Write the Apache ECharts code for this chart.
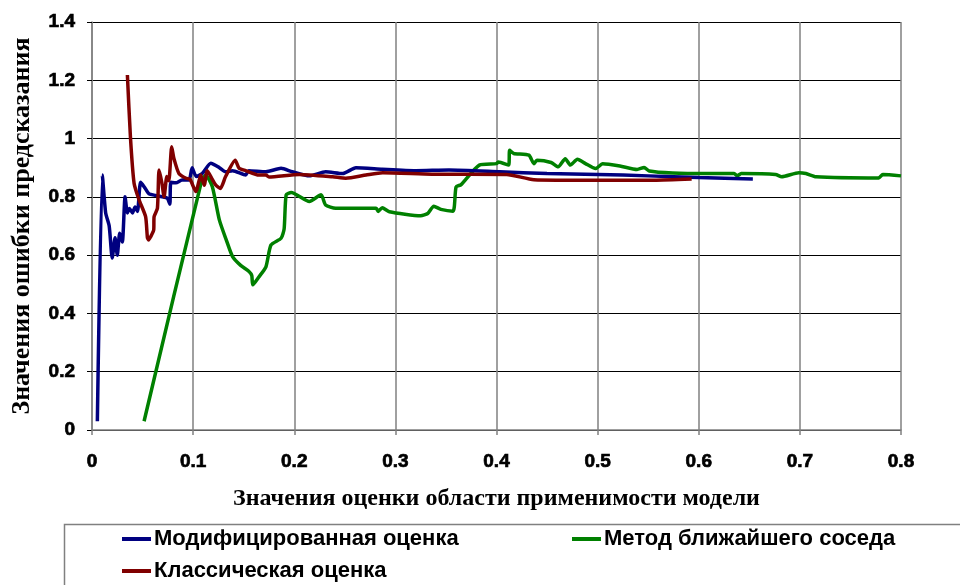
<!DOCTYPE html>
<html>
<head>
<meta charset="utf-8">
<script src="https://cdn.jsdelivr.net/npm/echarts@6/dist/echarts.min.js"></script>
<style>html,body{margin:0;padding:0;background:#fff;}#c{width:960px;height:585px;}</style>
</head>
<body>
<div id="c"></div>
<script>
const xTicks = [0, 0.1, 0.2, 0.3, 0.4, 0.5, 0.6, 0.7, 0.8];
const yTicks = [0, 0.2, 0.4, 0.6, 0.8, 1, 1.2, 1.4];
const seriesNames = ['Модифицированная оценка', 'Метод ближайшего соседа', 'Классическая оценка'];

const modX = [0.0053,0.0102,0.0135,0.017,0.020,0.0228,0.025,0.0274,0.030,0.0327,0.035,0.037,0.040,0.0426,0.045,0.048,0.0515,0.0564,0.063,0.0696,0.0745,0.077,0.078,0.083,0.089,0.096,0.099,0.103,0.109,0.1175,0.126,0.132,0.139,0.152,0.155,0.172,0.187,0.198,0.215,0.231,0.248,0.261,0.287,0.320,0.353,0.403,0.45,0.50,0.55,0.60,0.6535];
const modY = [0.03,0.875,0.745,0.70,0.59,0.66,0.60,0.675,0.645,0.80,0.745,0.76,0.745,0.765,0.75,0.85,0.835,0.81,0.805,0.80,0.795,0.775,0.85,0.848,0.858,0.858,0.90,0.87,0.88,0.915,0.90,0.886,0.89,0.875,0.89,0.886,0.898,0.886,0.872,0.886,0.88,0.90,0.895,0.89,0.892,0.886,0.88,0.877,0.872,0.866,0.861];

const nnX = [0.0515,0.108,0.1125,0.119,0.126,0.133,0.139,0.147,0.155,0.158,0.159,0.165,0.172,0.177,0.187,0.190,0.192,0.197,0.215,0.2265,0.231,0.241,0.281,0.283,0.287,0.294,0.325,0.332,0.338,0.345,0.357,0.36,0.365,0.383,0.400,0.402,0.412,0.413,0.417,0.432,0.437,0.44,0.454,0.461,0.468,0.473,0.48,0.488,0.498,0.505,0.522,0.539,0.546,0.551,0.574,0.608,0.635,0.638,0.642,0.676,0.682,0.699,0.706,0.716,0.778,0.782,0.8];
const nnY = [0.03,0.85,0.875,0.835,0.72,0.65,0.595,0.565,0.545,0.53,0.498,0.525,0.56,0.635,0.658,0.69,0.807,0.815,0.784,0.807,0.772,0.761,0.761,0.75,0.763,0.749,0.735,0.743,0.768,0.757,0.751,0.834,0.842,0.909,0.914,0.92,0.909,0.96,0.949,0.943,0.914,0.926,0.918,0.903,0.931,0.909,0.929,0.914,0.897,0.914,0.906,0.894,0.901,0.889,0.882,0.88,0.88,0.872,0.88,0.877,0.869,0.883,0.88,0.869,0.865,0.877,0.872];

const clsX = [0.035,0.038,0.0416,0.0465,0.053,0.0548,0.056,0.058,0.061,0.0614,0.0647,0.0663,0.069,0.0713,0.074,0.076,0.0788,0.081,0.086,0.093,0.097,0.1027,0.1076,0.111,0.114,0.119,0.1225,0.127,0.132,0.1416,0.1455,0.152,0.165,0.172,0.175,0.205,0.238,0.251,0.271,0.2875,0.336,0.41,0.437,0.50,0.556,0.593];
const clsY = [1.218,1.006,0.847,0.79,0.732,0.66,0.652,0.663,0.686,0.732,0.761,0.892,0.85,0.80,0.87,0.855,0.972,0.932,0.88,0.864,0.86,0.818,0.875,0.84,0.89,0.86,0.84,0.829,0.869,0.926,0.898,0.89,0.875,0.875,0.868,0.877,0.869,0.864,0.875,0.883,0.878,0.877,0.859,0.857,0.857,0.861];

const pairs = (xs, ys) => xs.map((x, i) => [x, ys[i]]);
const colors = ['#000080', '#008000', '#800000'];
const sans = 'Arial, "Liberation Sans", sans-serif';
const serif = '"Liberation Serif", "Times New Roman", serif';
const tickFmt = v => String(Math.round(v * 10) / 10);

const chart = echarts.init(document.getElementById('c'), null, {renderer: 'canvas'});
const legendBase = (name, left, top) => ({
  data: [name], left: left, top: top, orient: 'horizontal',
  icon: 'rect', itemWidth: 29, itemHeight: 4, itemGap: 0, padding: 0,
  textStyle: {fontFamily: sans, fontWeight: 'bold', fontSize: 22, color: '#000', padding: [0, 0, 0, -2]}
});
const tickLabel = (margin) => ({
  margin: margin, formatter: tickFmt,
  fontFamily: sans, fontWeight: 'bold', fontSize: 19, color: '#000',
  textBorderColor: '#000', textBorderWidth: 0.7
});
chart.setOption({
  animation: false,
  backgroundColor: '#fff',
  color: colors,
  grid: {left: 92, right: 59, top: 22, bottom: 155, containLabel: false},
  legend: [
    legendBase(seriesNames[0], 122, 528),
    legendBase(seriesNames[1], 572, 528),
    legendBase(seriesNames[2], 122, 560)
  ],
  graphic: [{
    type: 'rect', left: 62, top: 522, silent: true,
    shape: {width: 940, height: 80},
    style: {fill: 'none', stroke: '#808080', lineWidth: 1.5}
  }],
  xAxis: {
    type: 'value', min: xTicks[0], max: xTicks[xTicks.length - 1], interval: 0.1,
    name: 'Значения оценки области применимости модели',
    nameLocation: 'middle', nameGap: 57,
    nameTextStyle: {fontFamily: serif, fontWeight: 'bold', fontSize: 24, color: '#000'},
    axisLine: {show: true, lineStyle: {color: '#808080', width: 1.5}},
    axisTick: {show: true, length: 5, lineStyle: {color: '#808080', width: 1.5}},
    axisLabel: tickLabel(22),
    splitLine: {show: true, lineStyle: {color: '#808080', width: 1.5}}
  },
  yAxis: {
    type: 'value', min: yTicks[0], max: yTicks[yTicks.length - 1], interval: 0.2,
    name: 'Значения ошибки предсказания',
    nameLocation: 'middle', nameGap: 57,
    nameTextStyle: {fontFamily: serif, fontWeight: 'bold', fontSize: 26, color: '#000'},
    axisLine: {show: true, lineStyle: {color: '#808080', width: 1.5}},
    axisTick: {show: true, length: 5, lineStyle: {color: '#000', width: 1}},
    axisLabel: tickLabel(17),
    splitLine: {show: true, lineStyle: {color: '#000', width: 1}}
  },
  series: [
    {name: seriesNames[0], type: 'line', data: pairs(modX, modY), showSymbol: false, smooth: 0.2,
      lineStyle: {width: 3.5, color: colors[0]}, itemStyle: {color: colors[0]}, z: 3},
    {name: seriesNames[1], type: 'line', data: pairs(nnX, nnY), showSymbol: false, smooth: 0.2,
      lineStyle: {width: 3.5, color: colors[1]}, itemStyle: {color: colors[1]}, z: 2},
    {name: seriesNames[2], type: 'line', data: pairs(clsX, clsY), showSymbol: false, smooth: 0.2,
      lineStyle: {width: 3.5, color: colors[2]}, itemStyle: {color: colors[2]}, z: 4}
  ]
});
</script>
</body>
</html>
